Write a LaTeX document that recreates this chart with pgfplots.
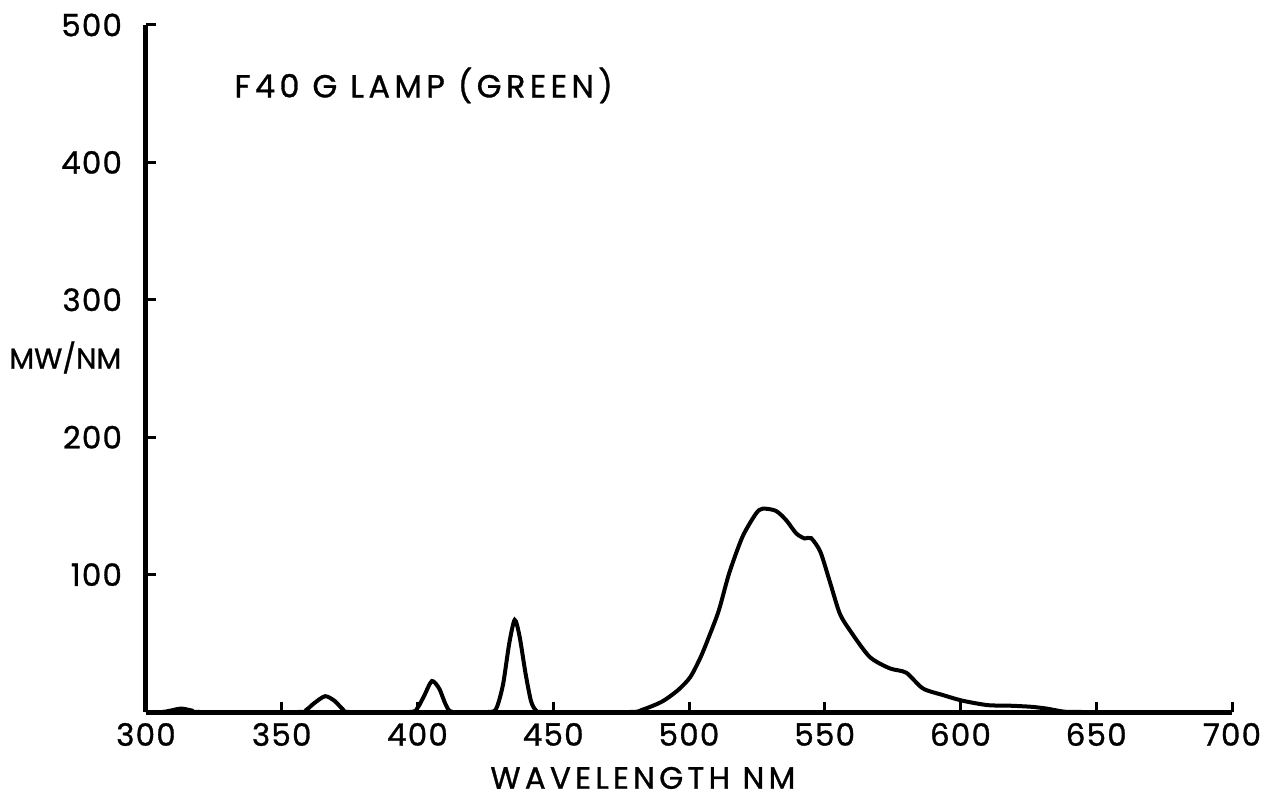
\documentclass[border=0pt]{standalone}
\usepackage{pgfplots}
\pgfplotsset{compat=1.18}
\usepackage{fontspec}
\setmainfont{Poppins}[LetterSpace=4, FakeBold=1]
\newfontfamily\lblfont{Poppins}[LetterSpace=14, FakeBold=1]
\newfontfamily\ylabfont{Poppins}[LetterSpace=0, FakeBold=1]
\begin{document}
\begin{tikzpicture}
\begin{axis}[name=ax, scale only axis, width=543bp, height=343.5bp,
  xmin=300, xmax=700, ymin=0, ymax=500,
  axis x line=bottom, axis y line=left,
  axis line style={line width=2.5bp,-},
  xtick={300,350,...,700}, ytick={100,200,...,500},
  tick align=inside, major tick length=5bp,
  tick style={line width=1.5bp,black},
  /pgf/number format/assume math mode=true,
  xticklabel style={font=\fontsize{15.5}{17}\selectfont, yshift=-2bp},
  yticklabel style={font=\fontsize{15.5}{17}\selectfont, xshift=-8.5bp},
  clip mode=individual]
\addplot[black, line width=2bp, smooth, tension=0.45] coordinates {
 (300,0) (306,0) (309,1) (313,2.5) (317,1) (320,0)
 (356,0) (359,1.5) (362,6.5) (366,11.5) (369.5,8) (372.5,2) (375,0)
 (397,0) (400,3) (402.5,12) (405.3,22.5) (408,17) (410.5,5) (413,0)
 (426,0) (429,2.5) (431.5,20) (433.8,50) (435.8,67) (437.6,55) (439.8,28) (441.8,8) (443.5,1.5) (446,0)
 (478,0) (482.6,1.5) (490,7.5) (496,16) (500.5,25.5) (504.3,40) (507.4,55)
 (511,74) (514.8,101) (519.7,127.5) (524.7,144.5) (527.2,148) (532,146.4)
 (535.8,139.6) (539.5,130) (542.6,126.3) (545,126.5) (548.4,116.5) (552,94)
 (555.5,71.8) (559.2,59.6) (566.5,40.2) (573.9,31.8) (580,28.6) (586.1,17.2)
 (593.4,12.4) (600.8,8.2) (610,5) (618,4.6) (626,3.8) (632,2.4) (638,0.3) (645,0) (700,0)
};
\node[anchor=west, font=\lblfont\fontsize{16}{18}\selectfont] at (axis cs:330,456) {F40 G LAMP (GREEN)};
\node[anchor=west, inner sep=0pt, font=\ylabfont\fontsize{14.5}{16}\selectfont] at (axis cs:249.5,258) {MW/NM};
\node[font=\lblfont\fontsize{15.5}{17}\selectfont] at (axis cs:483,-48) {WAVELENGTH NM};
\end{axis}
\pgfresetboundingbox
\path (ax.south west) ++(-73bp,-45bp) rectangle ++(640.5bp,401bp);
\end{tikzpicture}
\end{document}
